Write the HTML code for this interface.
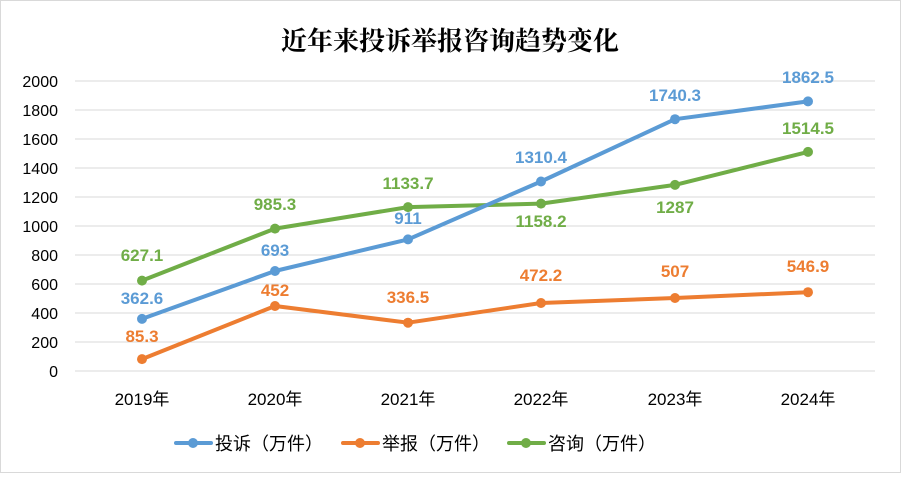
<!DOCTYPE html><html><head><meta charset="utf-8"><style>body{margin:0;background:#fff}</style></head><body>
<svg width="901" height="473" xmlns="http://www.w3.org/2000/svg" font-family="Liberation Sans, Noto Sans CJK SC, sans-serif">
<rect x="0.5" y="0.5" width="900" height="472" fill="#fff" stroke="#d9d9d9"/>
<text x="450" y="50" text-anchor="middle" font-size="26" font-weight="bold" font-family="Liberation Serif, Noto Serif CJK SC, serif" fill="#000">近年来投诉举报咨询趋势变化</text>
<g stroke="#d9d9d9" stroke-width="1">
<line x1="75" x2="875" y1="81" y2="81"/><line x1="75" x2="875" y1="110" y2="110"/><line x1="75" x2="875" y1="139" y2="139"/><line x1="75" x2="875" y1="168" y2="168"/><line x1="75" x2="875" y1="197" y2="197"/><line x1="75" x2="875" y1="226" y2="226"/><line x1="75" x2="875" y1="255" y2="255"/><line x1="75" x2="875" y1="284" y2="284"/><line x1="75" x2="875" y1="313" y2="313"/><line x1="75" x2="875" y1="342" y2="342"/><line x1="75" x2="875" y1="371" y2="371"/>
</g>
<g font-size="16" fill="#000" text-anchor="end">
<text x="58" y="87">2000</text><text x="58" y="116">1800</text><text x="58" y="145">1600</text><text x="58" y="174">1400</text><text x="58" y="203">1200</text><text x="58" y="232">1000</text><text x="58" y="261">800</text><text x="58" y="290">600</text><text x="58" y="319">400</text><text x="58" y="348">200</text><text x="58" y="377">0</text>
</g>
<g font-size="17" fill="#000" text-anchor="middle">
<text x="142" y="405">2019年</text><text x="275" y="405">2020年</text><text x="408" y="405">2021年</text><text x="541" y="405">2022年</text><text x="675" y="405">2023年</text><text x="808" y="405">2024年</text>
</g>
<g fill="none" stroke-width="4" stroke-linejoin="round" stroke-linecap="round">
<polyline stroke="#70AD47" points="142,280.6 275,228.6 408,207.1 541,203.6 675,184.9 808,151.9"/>
<polyline stroke="#5B9BD5" points="142,318.9 275,271 408,239.4 541,181.5 675,119.2 808,101.4"/>
<polyline stroke="#ED7D31" points="142,359.1 275,306 408,322.7 541,303 675,298 808,292.2"/>
</g>
<g fill="#70AD47"><circle cx="142" cy="280.6" r="5"/><circle cx="275" cy="228.6" r="5"/><circle cx="408" cy="207.1" r="5"/><circle cx="541" cy="203.6" r="5"/><circle cx="675" cy="184.9" r="5"/><circle cx="808" cy="151.9" r="5"/></g>
<g fill="#5B9BD5"><circle cx="142" cy="318.9" r="5"/><circle cx="275" cy="271" r="5"/><circle cx="408" cy="239.4" r="5"/><circle cx="541" cy="181.5" r="5"/><circle cx="675" cy="119.2" r="5"/><circle cx="808" cy="101.4" r="5"/></g>
<g fill="#ED7D31"><circle cx="142" cy="359.1" r="5"/><circle cx="275" cy="306" r="5"/><circle cx="408" cy="322.7" r="5"/><circle cx="541" cy="303" r="5"/><circle cx="675" cy="298" r="5"/><circle cx="808" cy="292.2" r="5"/></g>
<g font-size="17" font-weight="bold" text-anchor="middle">
<g fill="#5B9BD5"><text x="142" y="304">362.6</text><text x="275" y="256">693</text><text x="408" y="224">911</text><text x="541" y="163">1310.4</text><text x="675" y="101">1740.3</text><text x="808" y="83">1862.5</text></g>
<g fill="#ED7D31"><text x="142" y="342">85.3</text><text x="275" y="296">452</text><text x="408" y="303">336.5</text><text x="541" y="281">472.2</text><text x="675" y="277">507</text><text x="808" y="272">546.9</text></g>
<g fill="#70AD47"><text x="142" y="261">627.1</text><text x="275" y="210">985.3</text><text x="408" y="189">1133.7</text><text x="541" y="227">1158.2</text><text x="675" y="213">1287</text><text x="808" y="134">1514.5</text></g>
</g>
<g stroke-width="4" stroke-linecap="round">
<line x1="176" x2="211" y1="443" y2="443" stroke="#5B9BD5"/><circle cx="193" cy="443" r="5" fill="#5B9BD5"/>
<line x1="343" x2="378" y1="443" y2="443" stroke="#ED7D31"/><circle cx="360" cy="443" r="5" fill="#ED7D31"/>
<line x1="509" x2="544" y1="443" y2="443" stroke="#70AD47"/><circle cx="526" cy="443" r="5" fill="#70AD47"/>
</g>
<g font-size="18" fill="#000">
<text x="215" y="450">投诉（万件）</text><text x="382" y="450">举报（万件）</text><text x="548" y="450">咨询（万件）</text>
</g>
</svg>
</body></html>
